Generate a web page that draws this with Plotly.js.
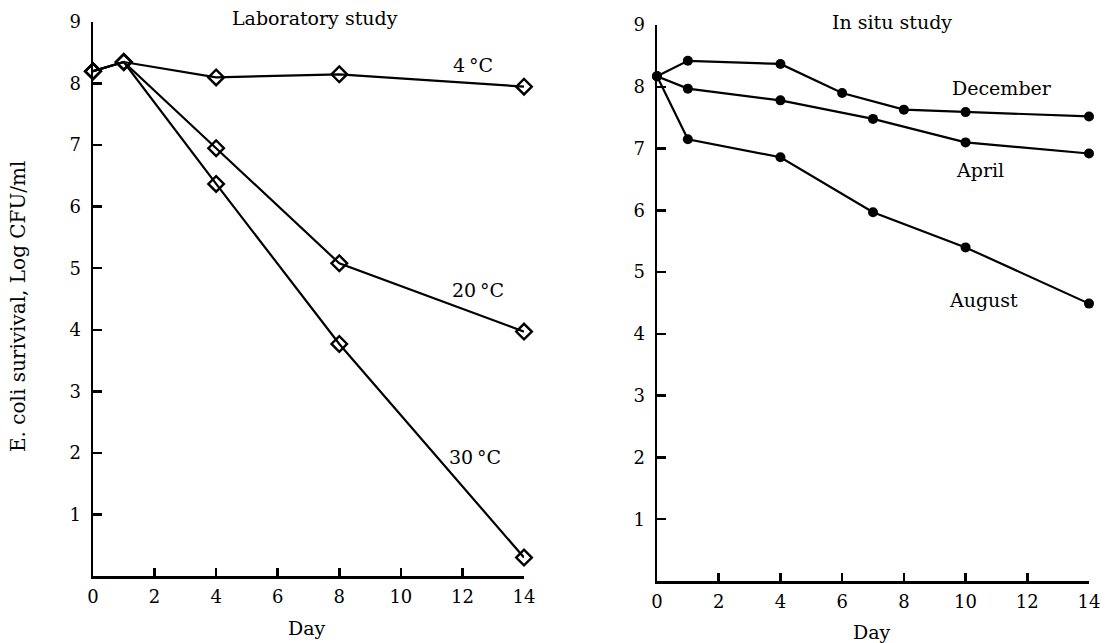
<!DOCTYPE html>
<html>
<head>
<meta charset="utf-8">
<script src="https://cdn.plot.ly/plotly-3.0.1.min.js"></script>
<style>html,body{margin:0;padding:0;background:#fff;}#chart{width:1109px;height:643px;}</style>
</head>
<body>
<div id="chart"></div>
<script>
// Laboratory study
const labDays = [0, 1, 4, 8, 14];
const lab4C  = [8.2, 8.35, 8.1, 8.15, 7.95];
const lab20C = [8.2, 8.35, 6.95, 5.08, 3.97];
const lab30C = [8.2, 8.35, 6.37, 3.77, 0.3];
// In situ study
const decDays = [0, 1, 4, 6, 8, 10, 14];
const decVals = [8.17, 8.42, 8.37, 7.9, 7.63, 7.59, 7.52];
const aprDays = [0, 1, 4, 7, 10, 14];
const aprVals = [8.17, 7.97, 7.78, 7.48, 7.1, 6.92];
const augDays = [0, 1, 4, 7, 10, 14];
const augVals = [8.17, 7.15, 6.86, 5.97, 5.4, 4.49];

const xTicks = [0, 2, 4, 6, 8, 10, 12, 14];
const yTicks = [1, 2, 3, 4, 5, 6, 7, 8, 9];

const W = 1109, H = 643;
const px = v => v / W;
const py = v => 1 - v / H;
const FONT = 'DejaVu Serif, Liberation Serif, serif';

function lab(x, y) {
  return {x: x, y: y, xaxis: 'x', yaxis: 'y', mode: 'lines+markers', cliponaxis: false,
    line: {color: '#000', width: 2.2},
    marker: {symbol: 'diamond-open', size: 12, color: '#000', line: {color: '#000', width: 2.4}},
    showlegend: false, hoverinfo: 'x+y'};
}
function situ(x, y) {
  return {x: x, y: y, xaxis: 'x2', yaxis: 'y2', mode: 'lines+markers', cliponaxis: false,
    line: {color: '#000', width: 2.2},
    marker: {symbol: 'circle', size: 10, color: '#000'},
    showlegend: false, hoverinfo: 'x+y'};
}

const data = [
  lab(labDays, lab4C), lab(labDays, lab20C), lab(labDays, lab30C),
  situ(decDays, decVals), situ(aprDays, aprVals), situ(augDays, augVals)
];

function xax(d0, d1, anchor) {
  return {domain: [px(d0), px(d1)], anchor: anchor, range: [0, 14], tickvals: xTicks,
    ticks: 'inside', ticklen: 8, tickwidth: 2.5, tickcolor: '#000',
    showline: true, linewidth: 2.5, linecolor: '#000', showgrid: false, zeroline: false,
    tickfont: {family: FONT, size: 18, color: '#000'}, ticklabelstandoff: 3, fixedrange: true};
}
function yax(top, bot, anchor) {
  return {domain: [py(bot), py(top)], anchor: anchor, range: [0, 9], tickvals: yTicks,
    ticks: 'inside', ticklen: 9, tickwidth: 2.5, tickcolor: '#000',
    showline: true, linewidth: 2.5, linecolor: '#000', showgrid: false, zeroline: false,
    tickfont: {family: FONT, size: 18, color: '#000'}, ticklabelstandoff: 6, fixedrange: true};
}

function ann(text, x, y, size, extra) {
  return Object.assign({text: text, xref: 'paper', yref: 'paper', x: px(x), y: py(y),
    xanchor: 'center', yanchor: 'middle', showarrow: false,
    font: {family: FONT, size: size, color: '#000'}}, extra || {});
}

const layout = {
  width: W, height: H,
  margin: {l: 0, r: 0, t: 0, b: 0},
  paper_bgcolor: '#fff', plot_bgcolor: 'rgba(0,0,0,0)',
  showlegend: false,
  xaxis: xax(93, 524, 'y'),
  yaxis: yax(22, 576, 'x'),
  xaxis2: xax(657, 1089, 'y2'),
  yaxis2: yax(25, 581, 'x2'),
  annotations: [
    ann('Laboratory study', 315, 18, 19),
    ann('In situ study', 892, 22, 19),
    ann('4\u2009\u00B0C', 473, 65, 19),
    ann('20\u2009\u00B0C', 478, 290, 19),
    ann('30\u2009\u00B0C', 475, 457, 19),
    ann('December', 1002, 88, 19),
    ann('April', 980, 170, 19),
    ann('August', 983, 300, 19),
    ann('Day', 307, 628, 19),
    ann('Day', 872, 632, 19),
    ann('E. coli surivival, Log CFU/ml', 18, 307, 20, {textangle: -90})
  ]
};

Plotly.newPlot('chart', data, layout, {displayModeBar: false, staticPlot: true});
</script>
</body>
</html>
